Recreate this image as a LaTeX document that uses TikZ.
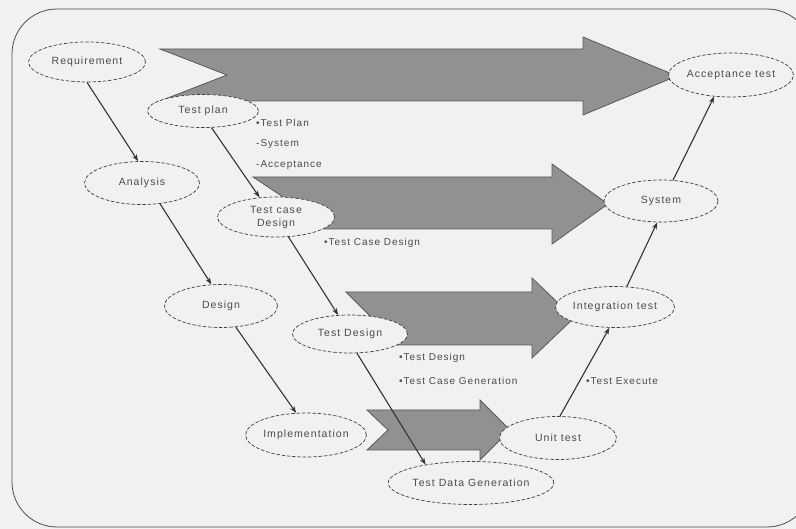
\documentclass[tikz,border=0pt]{standalone}
\usepackage{fontspec}
\setmainfont{Liberation Sans}[LetterSpace=10]
\usetikzlibrary{shapes.geometric,arrows.meta}
\definecolor{bg}{RGB}{242,240,243}
\definecolor{arrfill}{RGB}{145,145,145}
\definecolor{ink}{RGB}{75,75,75}
\tikzset{
  ell/.style={ellipse, draw=black!75, line width=0.7pt, dash pattern=on 3.5pt off 1.8pt,
    fill=bg, text=ink, inner sep=0pt, font=\fontsize{10.5}{13}\selectfont, align=center},
  conn/.style={draw=black!80, line width=1.1pt, -{Stealth[length=7pt,width=5pt]}},
  bigarrow/.style={fill=arrfill, draw=black!65, line width=0.8pt, line join=miter},
  lbl/.style={anchor=west, text=ink, inner sep=0pt, font=\fontsize{10}{12}\selectfont},
  frame/.style={draw=black!70, line width=0.8pt, rounded corners=45pt}
}
\begin{document}
\begin{tikzpicture}[x=1pt,y=-1pt]
\useasboundingbox (0,0) rectangle (796,529);
\clip (0,0) rectangle (796,529);
\fill[bg] (0,0) rectangle (796,529);
\draw[frame] (12,9) rectangle (812,527);

% big process arrows
\draw[bigarrow] (160,49) -- (583,49) -- (583,37) -- (677,76) -- (583,115) -- (583,101)
  -- (160,101) -- (227,75) -- cycle;
\draw[bigarrow] (253,177) -- (552,177) -- (552,164) -- (608,204) -- (552,244) -- (552,229)
  -- (253,229) -- (292,203) -- cycle;
\draw[bigarrow] (346,292) -- (532,292) -- (532,278) -- (574,318) -- (532,358) -- (532,345)
  -- (346,345) -- (372,318) -- cycle;
\draw[bigarrow] (367,410) -- (480,410) -- (480,400) -- (510,430) -- (480,460) -- (480,450)
  -- (367,450) -- (388,430) -- cycle;

% nodes
\node[ell, minimum width=117pt, minimum height=40pt] (req) at (87,62) {Requirement};
\node[ell, minimum width=115pt, minimum height=43pt] (ana) at (142,183) {Analysis};
\node[ell, minimum width=113pt, minimum height=43pt] (des) at (221,306) {Design};
\node[ell, minimum width=113pt, minimum height=44pt] (imp) at (306,435) {Implementation};
\node[ell, minimum width=111pt, minimum height=33pt] (tp) at (203,111) {Test plan};
\node[ell, minimum width=117pt, minimum height=40pt] (tcd) at (276,217) {Test case\\Design};
\node[ell, minimum width=115pt, minimum height=38pt] (td) at (350,334) {Test Design};
\node[ell, minimum width=158pt, minimum height=43pt] (tdg) at (471,483) {Test Data Generation};
\node[ell, minimum width=117pt, minimum height=43pt] (ut) at (558,438) {Unit test};
\node[ell, minimum width=116pt, minimum height=41pt] (it) at (615,307) {Integration test};
\node[ell, minimum width=114pt, minimum height=42pt] (sys) at (661,201) {System};
\node[ell, minimum width=113pt, minimum height=44pt] (acc) at (731,75) {Acceptance test};

% connectors
\draw[conn] (req.south) -- (ana.100);
\draw[conn] (ana.-49) -- (des.114);
\draw[conn] (des.-55) -- (imp.114);
\draw[conn] (tp.-63) -- (tcd.130);
\draw[conn] (tcd.-58) -- (td.122);
\draw[conn] (td.-70) -- (tdg.158);
\draw[conn] (ut.85) -- (it.-105);
\draw[conn] (it.60) -- (sys.-100);
\draw[conn] (sys.60) -- (acc.-128);

% labels
\node[lbl] (l1) at (256,123) {•Test Plan};
\node[lbl] (l2) at (256,144) {-System};
\node[lbl] (l3) at (256,165) {-Acceptance};
\node[lbl] (l4) at (324,243) {•Test Case Design};
\node[lbl] (l5) at (399,358) {•Test Design};
\node[lbl] (l6) at (399,381) {•Test Case Generation};
\node[lbl] (l7) at (586,381) {•Test Execute};
\end{tikzpicture}
\end{document}
